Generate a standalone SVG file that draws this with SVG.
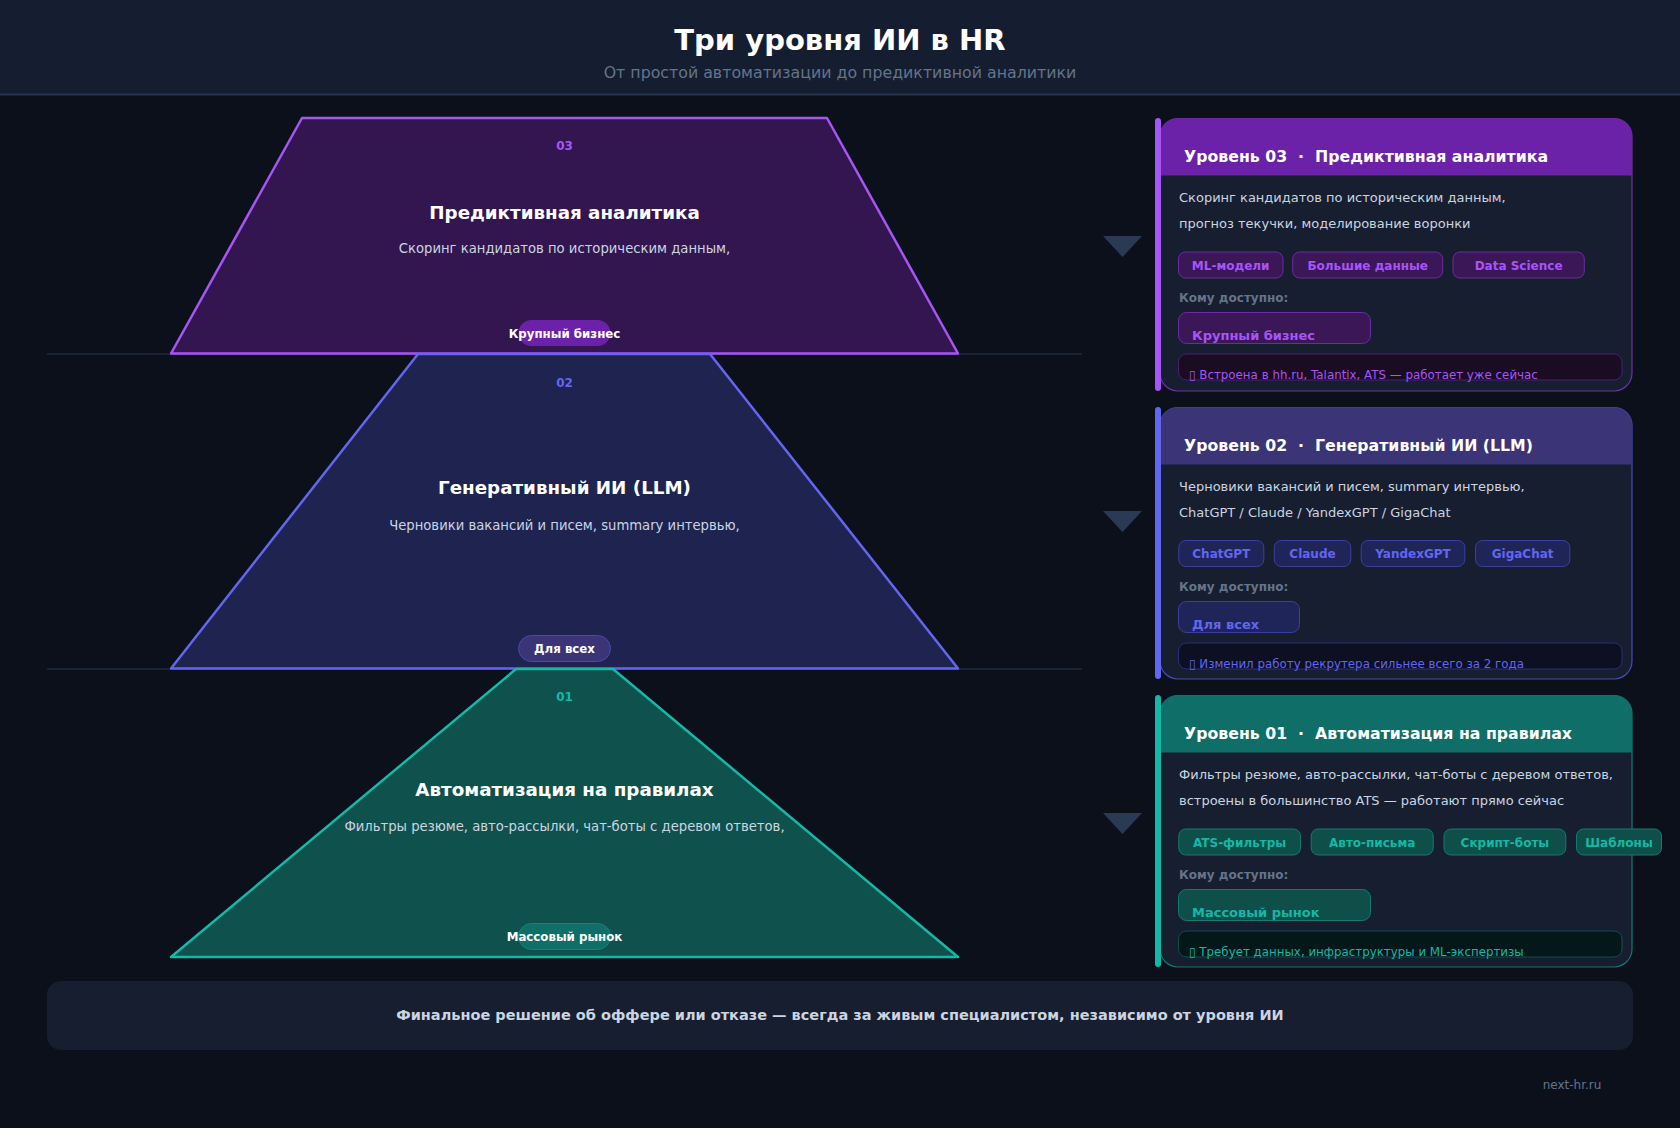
<svg xmlns="http://www.w3.org/2000/svg" width="1680" height="1128" viewBox="0 0 1680 1128">
<style>
text{font-family:"DejaVu Sans","Noto Sans",sans-serif}
.b{font-weight:bold}
.mid{text-anchor:middle}
.lvl{font-size:12px;font-weight:bold}
.ptitle{font-size:18.3px;font-weight:bold;fill:#ffffff;text-anchor:middle}
.psub{font-size:13.2px;fill:#cbd5e1;text-anchor:middle}
.pill{font-size:11.8px;font-weight:bold;fill:#ffffff;text-anchor:middle}
.chead{font-size:15.75px;font-weight:bold;fill:#ffffff}
.desc{font-size:13px;fill:#cbd5e1}
.tag{font-size:12px;font-weight:bold;text-anchor:middle}
.who{font-size:12px;font-weight:bold;fill:#64748b}
.acc{font-size:13px;font-weight:bold}
.note{font-size:11.85px}
.tri{fill:#2a3a55}
.div{stroke:#1e2a40;stroke-width:1.5}
</style>
<rect x="0" y="0" width="1680" height="1128" fill="#0c101b"/>
<g id="header">
<rect x="0" y="0" width="1680" height="94" fill="#151d30"/>
<line x1="0" y1="94.5" x2="1680" y2="94.5" stroke="#26334d" stroke-width="2"/>
<text x="840" y="50" class="b mid" font-size="29" fill="#ffffff">Три уровня ИИ в HR</text>
<text x="840" y="78" class="mid" font-size="15.8" fill="#64748b">От простой автоматизации до предиктивной аналитики</text>
</g>
<g id="dividers">
<line class="div" x1="47" y1="354" x2="1082" y2="354"/>
<line class="div" x1="47" y1="669" x2="1082" y2="669"/>
</g>
<g id="level3-shape">
<polygon points="302,118 827,118 958,353.5 171,353.5" fill="#331650" stroke="#a855f7" stroke-width="2.5" stroke-linejoin="round"/>
<text x="564.5" y="150" class="lvl mid" fill="#a855f7">03</text>
<text x="564.5" y="219" class="ptitle">Предиктивная аналитика</text>
<text x="564.5" y="253" class="psub">Скоринг кандидатов по историческим данным,</text>
<rect x="518.5" y="320" width="92" height="26" rx="13" fill="#6b21a8"/>
<text x="564.5" y="338" class="pill">Крупный бизнес</text>
</g>
<g id="level2-shape">
<polygon points="418,354 710,354 958,668.5 171,668.5" fill="#1e2350" stroke="#6366f1" stroke-width="2.5" stroke-linejoin="round"/>
<text x="564.5" y="387" class="lvl mid" fill="#6366f1">02</text>
<text x="564.5" y="494" class="ptitle">Генеративный ИИ (LLM)</text>
<text x="564.5" y="530" class="psub">Черновики вакансий и писем, summary интервью,</text>
<rect x="518.5" y="635.5" width="92" height="26" rx="13" fill="#3b3578" stroke="#4a4aa8" stroke-width="1"/>
<text x="564.5" y="652.5" class="pill">Для всех</text>
</g>
<g id="level1-shape">
<polygon points="516,669 613,669 958,957 171,957" fill="#0f524d" stroke="#14b8a6" stroke-width="2.5" stroke-linejoin="round"/>
<text x="564.5" y="701" class="lvl mid" fill="#14b8a6">01</text>
<text x="564.5" y="796" class="ptitle">Автоматизация на правилах</text>
<text x="564.5" y="831" class="psub">Фильтры резюме, авто-рассылки, чат-боты с деревом ответов,</text>
<rect x="518.5" y="923.5" width="92" height="26" rx="13" fill="#0f6e68" stroke="#12857a" stroke-width="1"/>
<text x="564.5" y="940.5" class="pill">Массовый рынок</text>
</g>
<g id="connectors">
<polygon class="tri" points="1103,236 1142,236 1122.5,257"/>
<polygon class="tri" points="1103,511 1142,511 1122.5,532"/>
<polygon class="tri" points="1103,813 1142,813 1122.5,834"/>
</g>
<g id="card-level3">
<rect x="1160" y="118.5" width="472" height="272.5" rx="18" fill="#161e30" stroke="#7e3bc4" stroke-opacity="0.8" stroke-width="1.2"/>
<path d="M1160,175.5 V136.5 A18,18 0 0 1 1178,118.5 H1614 A18,18 0 0 1 1632,136.5 V175.5 Z" fill="#6b21a8"/>
<rect x="1155" y="118" width="6" height="273" rx="3" fill="#a855f7"/>
<text x="1184" y="162" class="chead" xml:space="preserve">Уровень 03  ·  Предиктивная аналитика</text>
<text x="1179" y="202" class="desc">Скоринг кандидатов по историческим данным,</text>
<text x="1179" y="228" class="desc">прогноз текучки, моделирование воронки</text>
<g fill="#3b1758" stroke="#6b2ca0" stroke-width="1">
<rect x="1178.5" y="252" width="104.5" height="26" rx="7"/>
<rect x="1292.7" y="252" width="150" height="26" rx="7"/>
<rect x="1453" y="252" width="131.3" height="26" rx="7"/>
</g>
<g fill="#a855f7">
<text x="1230.7" y="269.5" class="tag">ML-модели</text>
<text x="1367.7" y="269.5" class="tag">Большие данные</text>
<text x="1518.6" y="269.5" class="tag">Data Science</text>
</g>
<text x="1179" y="302" class="who">Кому доступно:</text>
<rect x="1178.5" y="312.5" width="192" height="31" rx="8" fill="#3b1758" stroke="#6b2ca0" stroke-width="1"/>
<text x="1192" y="340" class="acc" fill="#a855f7">Крупный бизнес</text>
<rect x="1178.5" y="354" width="443.5" height="26" rx="8" fill="#1a0c22" stroke="#4a1f72" stroke-width="1"/>
<text x="1189" y="378.5" class="note" fill="#a855f7">▯ Встроена в hh.ru, Talantix, ATS — работает уже сейчас</text>
</g>
<g id="card-level2">
<rect x="1160" y="407.5" width="472" height="271.5" rx="18" fill="#161e30" stroke="#5558d8" stroke-opacity="0.8" stroke-width="1.2"/>
<path d="M1160,464.5 V425.5 A18,18 0 0 1 1178,407.5 H1614 A18,18 0 0 1 1632,425.5 V464.5 Z" fill="#3b3578"/>
<rect x="1155" y="407" width="6" height="272" rx="3" fill="#6366f1"/>
<text x="1184" y="451" class="chead" xml:space="preserve">Уровень 02  ·  Генеративный ИИ (LLM)</text>
<text x="1179" y="491" class="desc">Черновики вакансий и писем, summary интервью,</text>
<text x="1179" y="517" class="desc">ChatGPT / Claude / YandexGPT / GigaChat</text>
<g fill="#1f2558" stroke="#3b40a0" stroke-width="1">
<rect x="1178.8" y="540.5" width="85" height="26" rx="7"/>
<rect x="1274.3" y="540.5" width="76.5" height="26" rx="7"/>
<rect x="1361.2" y="540.5" width="103.6" height="26" rx="7"/>
<rect x="1475.5" y="540.5" width="94.3" height="26" rx="7"/>
</g>
<g fill="#6366f1">
<text x="1221.3" y="558" class="tag">ChatGPT</text>
<text x="1312.5" y="558" class="tag">Claude</text>
<text x="1413" y="558" class="tag">YandexGPT</text>
<text x="1522.6" y="558" class="tag">GigaChat</text>
</g>
<text x="1179" y="591" class="who">Кому доступно:</text>
<rect x="1178.5" y="601.5" width="121" height="31" rx="8" fill="#1f2558" stroke="#3b40a0" stroke-width="1"/>
<text x="1192" y="629" class="acc" fill="#6366f1">Для всех</text>
<rect x="1178.5" y="643" width="443.5" height="26" rx="8" fill="#0d0f22" stroke="#2c2f78" stroke-width="1"/>
<text x="1189" y="667.5" class="note" fill="#6366f1">▯ Изменил работу рекрутера сильнее всего за 2 года</text>
</g>
<g id="card-level1">
<rect x="1160" y="695.5" width="472" height="271.5" rx="18" fill="#161e30" stroke="#138f84" stroke-opacity="0.8" stroke-width="1.2"/>
<path d="M1160,752.5 V713.5 A18,18 0 0 1 1178,695.5 H1614 A18,18 0 0 1 1632,713.5 V752.5 Z" fill="#0f6e68"/>
<rect x="1155" y="695" width="6" height="272" rx="3" fill="#14b8a6"/>
<text x="1184" y="739" class="chead" xml:space="preserve">Уровень 01  ·  Автоматизация на правилах</text>
<text x="1179" y="779" class="desc">Фильтры резюме, авто-рассылки, чат-боты с деревом ответов,</text>
<text x="1179" y="805" class="desc">встроены в большинство ATS — работают прямо сейчас</text>
<g fill="#0f4f4a" stroke="#137a70" stroke-width="1">
<rect x="1178.8" y="829" width="121.7" height="26" rx="7"/>
<rect x="1311.2" y="829" width="122" height="26" rx="7"/>
<rect x="1444" y="829" width="121.8" height="26" rx="7"/>
<rect x="1576.5" y="829" width="85" height="26" rx="7"/>
</g>
<g fill="#14b8a6">
<text x="1239.6" y="846.5" class="tag">ATS-фильтры</text>
<text x="1372.2" y="846.5" class="tag">Авто-письма</text>
<text x="1504.9" y="846.5" class="tag">Скрипт-боты</text>
<text x="1619" y="846.5" class="tag">Шаблоны</text>
</g>
<text x="1179" y="879" class="who">Кому доступно:</text>
<rect x="1178.5" y="889.5" width="192" height="31" rx="8" fill="#0f4f4a" stroke="#137a70" stroke-width="1"/>
<text x="1192" y="917" class="acc" fill="#14b8a6">Массовый рынок</text>
<rect x="1178.5" y="931" width="443.5" height="26" rx="8" fill="#04171a" stroke="#0f4f4a" stroke-width="1"/>
<text x="1189" y="955.5" class="note" fill="#14b8a6">▯ Требует данных, инфраструктуры и ML-экспертизы</text>
</g>
<g id="footer">
<rect x="47" y="981" width="1586" height="69" rx="14" fill="#161e30"/>
<text x="840" y="1020" class="b mid" font-size="14.5" fill="#cbd5e1">Финальное решение об оффере или отказе — всегда за живым специалистом, независимо от уровня ИИ</text>
<text x="1572" y="1089" class="mid" font-size="12" fill="#64748b">next-hr.ru</text>
</g>
</svg>
